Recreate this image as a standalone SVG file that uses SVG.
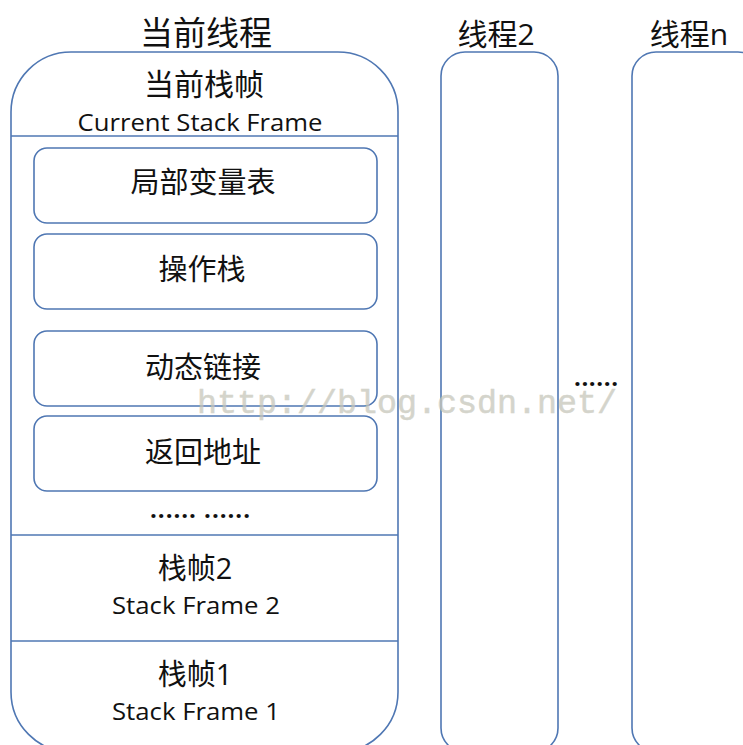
<svg xmlns="http://www.w3.org/2000/svg" width="743" height="745" viewBox="0 0 743 745">
<style>
.box{fill:#fff;stroke:#4f77b3;stroke-width:1.6}
.ln{stroke:#4f77b3;stroke-width:1.6;fill:none}
.t{font-family:"Open Sans","Noto Sans CJK SC",sans-serif;fill:#111;text-anchor:middle}
.wm{font-family:"Liberation Mono",monospace;fill:#c6c6ba;stroke:#c6c6ba;stroke-width:0.5;opacity:0.75}
</style>
<rect width="743" height="745" fill="#fff"/>
<g id="thread-current">
<text class="t" x="206" y="45" font-size="33">当前线程</text>
<rect class="box" x="11" y="52" width="387" height="700" rx="60" ry="60"/>
<line class="ln" x1="11" y1="136" x2="398" y2="136"/>
<line class="ln" x1="11" y1="535" x2="398" y2="535"/>
<line class="ln" x1="11" y1="641" x2="398" y2="641"/>
<text class="t" x="204" y="95" font-size="30">当前栈帧</text>
<text class="t" x="200" y="131" font-size="24" textLength="245" lengthAdjust="spacingAndGlyphs">Current Stack Frame</text>
</g>
<g id="local-vars">
<rect class="box" x="34" y="148" width="343" height="75" rx="13"/>
<text class="t" x="203" y="193" font-size="29">局部变量表</text>
</g>
<g id="operand-stack">
<rect class="box" x="34" y="234" width="343" height="75" rx="13"/>
<text class="t" x="202" y="280" font-size="29">操作栈</text>
</g>
<g id="dynamic-link">
<rect class="box" x="34" y="331" width="343" height="75" rx="13"/>
<text class="t" x="203" y="378" font-size="29">动态链接</text>
</g>
<g id="return-addr">
<rect class="box" x="34" y="416" width="343" height="75" rx="13"/>
<text class="t" x="203" y="463" font-size="29">返回地址</text>
</g>
<g id="more-frames">
<text class="t" x="200" y="518" font-size="24" font-weight="bold" textLength="100" lengthAdjust="spacing" fill="#1a1a40">...... ......</text>
</g>
<g id="frame2">
<text class="t" x="195" y="579" font-size="29">栈帧2</text>
<text class="t" x="196" y="614" font-size="23" textLength="168" lengthAdjust="spacingAndGlyphs">Stack Frame 2</text>
</g>
<g id="frame1">
<text class="t" x="195" y="685" font-size="29">栈帧1</text>
<text class="t" x="196" y="720" font-size="23" textLength="168" lengthAdjust="spacingAndGlyphs">Stack Frame 1</text>
</g>
<g id="thread-2">
<text class="t" x="496" y="45" font-size="30">线程2</text>
<rect class="box" x="441" y="52" width="117" height="700" rx="24" ry="24"/>
</g>
<g id="thread-ellipsis">
<text class="t" x="596" y="386" font-size="24" font-weight="bold" textLength="44" lengthAdjust="spacing" fill="#1a1a40">......</text>
</g>
<g id="thread-n">
<text class="t" x="689" y="45" font-size="30">线程n</text>
<rect class="box" x="632" y="52" width="130" height="700" rx="24" ry="24"/>
</g>
<g id="connectors"></g>
<text class="wm" x="197" y="413" font-size="33" textLength="420" lengthAdjust="spacingAndGlyphs">http://blog.csdn.net/</text>
</svg>
